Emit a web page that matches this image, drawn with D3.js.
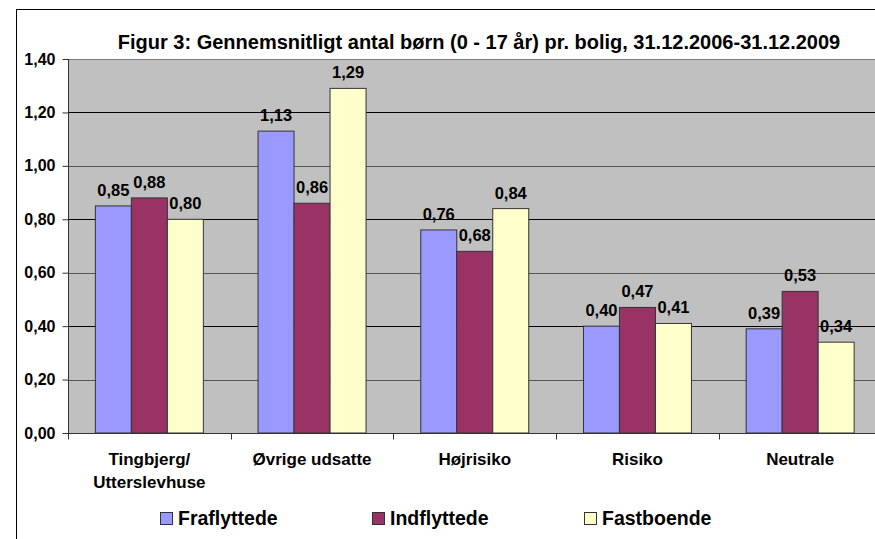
<!DOCTYPE html>
<html><head><meta charset="utf-8">
<script src="https://cdn.jsdelivr.net/npm/d3@7"></script>
<style>html,body{margin:0;padding:0;background:#fff;overflow:hidden;width:875px;height:539px}svg{display:block}text{font-family:"Liberation Sans",Arial,sans-serif;font-weight:bold;fill:#000}</style>
</head><body>
<script>
const title = "Figur 3: Gennemsnitligt antal børn (0 - 17 år) pr. bolig, 31.12.2006-31.12.2009";
const categories = [["Tingbjerg/","Utterslevhuse"],["Øvrige udsatte"],["Højrisiko"],["Risiko"],["Neutrale"]];
const seriesNames = ["Fraflyttede","Indflyttede","Fastboende"];
const fraflyttede = [0.85,1.13,0.76,0.40,0.39];
const indflyttede = [0.88,0.86,0.68,0.47,0.53];
const fastboende = [0.80,1.29,0.84,0.41,0.34];
const yTicks = [0,0.2,0.4,0.6,0.8,1.0,1.2,1.4];
const colors = ["#9999FF","#993366","#FFFFCC"];

const series = [fraflyttede, indflyttede, fastboende];
const W = 875, H = 539;
const plotLeft = 68, plotRight = 881.5, plotTop = 59, plotBottom = 433;
const svg = d3.select("body").append("svg").attr("width",W).attr("height",H);

// outer border
svg.append("rect").attr("x",16.5).attr("y",9.5).attr("width",W).attr("height",H)
  .attr("fill","none").attr("stroke","#000").attr("stroke-width",1);

const x0 = d3.scaleBand().domain(d3.range(categories.length)).range([plotLeft, plotRight]).paddingInner(0).paddingOuter(0);
const x1 = d3.scaleBand().domain(d3.range(series.length)).range([0, x0.bandwidth()]).paddingOuter(0.76).paddingInner(0);
const y = d3.scaleLinear().domain([0,1.4]).range([plotBottom, plotTop]);

// plot bg
svg.append("rect").attr("x",plotLeft).attr("y",plotTop).attr("width",plotRight-plotLeft).attr("height",y(0)-plotTop)
  .attr("fill","#C0C0C0");

// gridlines
svg.append("g").selectAll("line").data(yTicks.filter(d=>d>0)).join("line")
  .attr("x1",plotLeft).attr("x2",plotRight)
  .attr("y1",d=>Math.round(y(d))+0.5).attr("y2",d=>Math.round(y(d))+0.5)
  .attr("stroke",(d,i)=> d===1.4 ? "#7a7a7a" : (i%2===1 ? "#000" : "#555"))
  .attr("stroke-width",1);

// bars
const g = svg.append("g");
series.forEach((vals, si) => {
  g.selectAll(null).data(vals).join("rect")
    .attr("x",(d,i)=>x0(i)+x1(si))
    .attr("y",d=>y(d))
    .attr("width",x1.bandwidth())
    .attr("height",d=>y(0)-y(d))
    .attr("fill",colors[si]).attr("stroke","#333").attr("stroke-width",1);
  g.selectAll(null).data(vals).join("text")
    .attr("x",(d,i)=>x0(i)+x1(si)+x1.bandwidth()/2)
    .attr("y",d=>y(d)-10)
    .attr("text-anchor","middle").attr("font-size",16.5)
    .text(d=>d.toFixed(2).replace(".",","));
});

// y axis
const yAxis = d3.axisLeft(y).tickValues(yTicks).tickSize(6).tickPadding(7)
  .tickFormat(d=>d.toFixed(2).replace(".",","));
const ya = svg.append("g").attr("transform",`translate(${plotLeft+0.5},0)`).call(yAxis);
ya.select(".domain").attr("stroke","#333").attr("d",`M0,${y(1.4)}V${y(0)}`);
ya.selectAll(".tick line").attr("stroke","#333");
ya.selectAll(".tick text").attr("font-size",16).attr("font-family","Liberation Sans, Arial").attr("font-weight","bold").attr("fill","#000");

// x axis
const xa = svg.append("g").attr("transform",`translate(0,${Math.round(y(0))+0.5})`);
xa.append("line").attr("x1",plotLeft).attr("x2",W).attr("stroke","#333");
xa.selectAll("line.t").data(d3.range(categories.length+1)).join("line").attr("class","t")
  .attr("x1",i=>Math.round(plotLeft + i*x0.step())+0.5).attr("x2",i=>Math.round(plotLeft + i*x0.step())+0.5)
  .attr("y1",0).attr("y2",6).attr("stroke","#333");
categories.forEach((lines,i)=>{
  lines.forEach((t,j)=>{
    svg.append("text").attr("x",x0(i)+x0.bandwidth()/2).attr("y",465+j*23)
      .attr("text-anchor","middle").attr("font-size",17).text(t);
  });
});

// title
svg.append("text").attr("x",479).attr("y",49).attr("text-anchor","middle").attr("font-size",20).text(title);

// legend
const legX = [160,372,584];
seriesNames.forEach((n,i)=>{
  svg.append("rect").attr("x",legX[i]+0.5).attr("y",512.5).attr("width",12).attr("height",12)
    .attr("fill",colors[i]).attr("stroke","#333");
  svg.append("text").attr("x",legX[i]+18).attr("y",525).attr("font-size",19.5).text(n);
});
</script>
</body></html>
